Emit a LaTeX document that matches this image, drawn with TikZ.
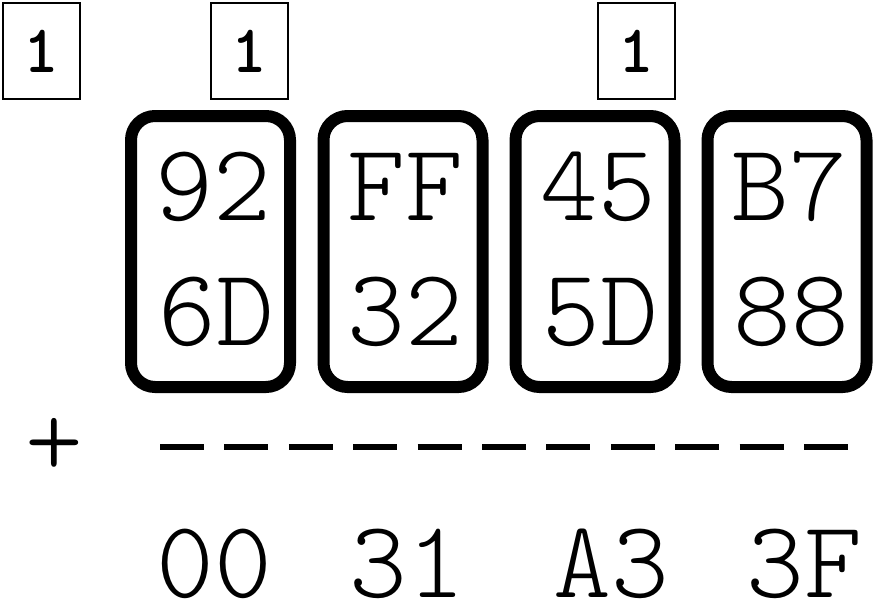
\documentclass[tikz,border=0pt]{standalone}
\usepackage{fontspec}
\newfontfamily\hexfont{lmmonolt10-regular.otf}[BoldFont=lmmonolt10-bold.otf]
\usepackage{tikz}
\usetikzlibrary{positioning}

\begin{document}
\begin{tikzpicture}[x=1pt, y=-1pt,
  carry/.style={draw, line width=2pt, minimum width=77pt, minimum height=96pt, inner sep=0pt,
    font=\hexfont\bfseries\fontsize{68}{68}\selectfont},
  bytebox/.style={draw, line width=12pt, rounded corners=24pt, minimum width=159pt, minimum height=271pt, inner sep=0pt},
  digits/.style={font=\hexfont\fontsize{110}{110}\selectfont, inner sep=0pt, anchor=base}]
  \useasboundingbox (0,0) rectangle (873,610);

  % carries
  \node[carry] (k1) at (41.5,51) {1};
  \node[carry] (k2) at (249.5,51) {1};
  \node[carry] (k3) at (636,51) {1};

  % the two operands, one box per byte
  \node[bytebox] (b1) at (210.5,251.5) {};
  \node[bytebox] (b2) at (403,251.5) {};
  \node[bytebox] (b3) at (595,251.5) {};
  \node[bytebox] (b4) at (787,251.5) {};

  \node[digits] (a1) at (213,220) {92};
  \node[digits] (a2) at (405,220) {FF};
  \node[digits] (a3) at (598,220) {45};
  \node[digits] (a4) at (789,220) {B7};

  \node[digits] (c1) at (216,345) {6D};
  \node[digits] (c2) at (405,345) {32};
  \node[digits] (c3) at (600,345) {5D};
  \node[digits] (c4) at (791,345) {88};

  % plus and rule
  \node[digits, anchor=center] (plus) at (54,447) {+};
  \coordinate (rule-l) at (160,447);
  \coordinate (rule-r) at (848,447);
  \draw[line width=6pt, dash pattern=on 44pt off 20.4pt] (rule-l) -- (rule-r);

  % sum
  \node[digits] (s1) at (214,597) {00};
  \node[digits] (s2) at (407,597) {31};
  \node[digits] (s3) at (611,597) {A3};
  \node[digits] (s4) at (804,597) {3F};
\end{tikzpicture}
\end{document}
